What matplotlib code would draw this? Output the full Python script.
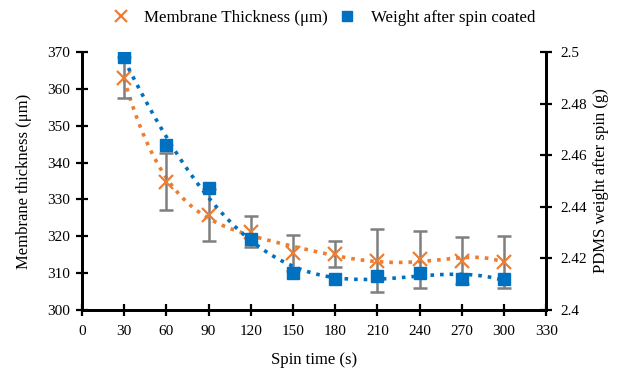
import numpy as np
import matplotlib.pyplot as plt

plt.rcParams['font.family'] = ['Liberation Serif', 'DejaVu Serif']

spin_time = [30, 60, 90, 120, 150, 180, 210, 240, 270, 300]
thickness = [363.0, 334.8, 325.8, 321.3, 315.4, 315.1, 313.4, 313.8, 313.4, 313.1]
thickness_err = [5.6, 7.7, 7.0, 4.3, 4.9, 3.5, 8.5, 7.7, 6.3, 7.0]
weight = [2.4979, 2.4640, 2.4472, 2.4274, 2.4145, 2.4120, 2.4133, 2.4145, 2.4120, 2.4120]

orange = '#ED7D31'
blue = '#0070C0'
grey = '#7F7F7F'

fig = plt.figure(figsize=(6.3, 3.74), dpi=100)
ax = fig.add_axes([0.130, 0.171, 0.737, 0.690])
ax2 = ax.twinx()

# trendlines (polynomial fit of the data)
xs = np.linspace(30, 300, 300)
p_t = np.polyfit(spin_time, thickness, 5)
p_w = np.polyfit(spin_time, weight, 5)
ax.plot(xs, np.polyval(p_t, xs), ':', color=orange, lw=2.6, zorder=2)
ax2.plot(xs, np.polyval(p_w, xs), ':', color=blue, lw=2.6, zorder=2)

ax.errorbar(spin_time, thickness, yerr=thickness_err, fmt='none', ecolor=grey,
            elinewidth=1.8, capsize=5, capthick=1.8, zorder=3)
ax.plot(spin_time, thickness, 'x', color=orange, ms=10, mew=1.6, zorder=4,
        label='Membrane Thickness (μm)')
ax2.plot(spin_time, weight, 's', color=blue, ms=9, zorder=4,
         label='Weight after spin coated')

ax.set_xlim(0, 330)
ax.set_ylim(300, 370)
ax2.set_ylim(2.4, 2.5)
ax.set_xticks(range(0, 331, 30))
ax.set_yticks(range(300, 371, 10))
ax2.set_yticks([2.4, 2.42, 2.44, 2.46, 2.48, 2.5])
ax2.set_yticklabels(['2.4', '2.42', '2.44', '2.46', '2.48', '2.5'])

for a in (ax, ax2):
    a.spines['top'].set_visible(False)
    for s in ('left', 'right', 'bottom'):
        a.spines[s].set_linewidth(2)
    a.tick_params(direction='inout', length=9, width=1.6, labelsize=11, colors='black')
ax.tick_params(axis='x', pad=6)
ax.tick_params(axis='y', pad=4)
ax2.tick_params(axis='y', pad=6)

ax.set_xlabel('Spin time (s)', fontsize=12, labelpad=10)
ax.set_ylabel('Membrane thickness (μm)', fontsize=12, labelpad=11)
ax2.set_ylabel('PDMS weight after spin (g)', fontsize=12, labelpad=4)

h1, l1 = ax.get_legend_handles_labels()
h2, l2 = ax2.get_legend_handles_labels()
leg = fig.legend(h1 + h2, l1 + l2, loc='center', bbox_to_anchor=(0.515, 0.952), ncol=2,
                 frameon=False, fontsize=12.2, handlelength=0.8, columnspacing=0.7,
                 handletextpad=1.0, markerscale=0.85)

fig.savefig('out.png', dpi=100)
